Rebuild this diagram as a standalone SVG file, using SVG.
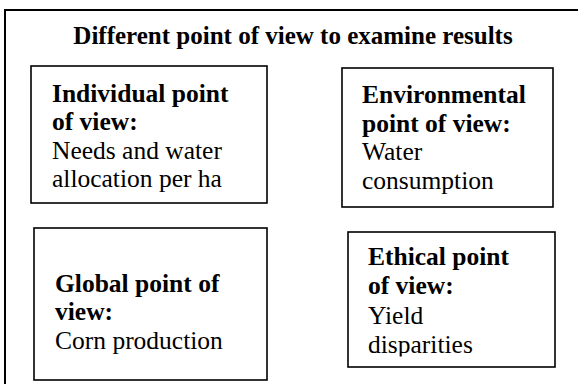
<svg xmlns="http://www.w3.org/2000/svg" width="578" height="384" viewBox="0 0 578 384">
<style>
.frame{fill:none;stroke:#000;stroke-width:2}
.box{fill:#fff;stroke:#000;stroke-width:1.6}
text{font-family:"Liberation Serif","Times New Roman",serif;font-size:25.5px;fill:#000}
.b{font-weight:bold}
.t{font-size:25px;font-weight:bold}
</style>
<defs>
<clipPath id="c1"><rect x="31" y="66" width="236" height="126"/></clipPath>
<clipPath id="c4"><rect x="348" y="232" width="207" height="124.5"/></clipPath>
</defs>
<g id="connectors"/>
<g id="frame">
<path class="frame" d="M5,384 V10 H578"/>
<text class="t" x="293" y="44" text-anchor="middle">Different point of view to examine results</text>
</g>
<g id="individual">
<rect class="box" x="31" y="66" width="236" height="137"/>
<g clip-path="url(#c1)">
<text class="b" x="52" y="101.5">Individual point</text>
<text class="b" x="52" y="130">of view:</text>
<text x="52" y="158.5">Needs and water</text>
<text x="52" y="187">allocation per ha</text>
</g>
</g>
<g id="environmental">
<rect class="box" x="342" y="68" width="211" height="139"/>
<text class="b" x="362" y="103">Environmental</text>
<text class="b" x="362" y="131.5">point of view:</text>
<text x="362" y="160">Water</text>
<text x="362" y="188.5">consumption</text>
</g>
<g id="global">
<rect class="box" x="34" y="228" width="233" height="152"/>
<text class="b" x="55" y="291.5">Global point of</text>
<text class="b" x="55" y="320">view:</text>
<text x="55" y="348.5">Corn production</text>
</g>
<g id="ethical">
<rect class="box" x="348" y="232" width="207" height="135"/>
<g clip-path="url(#c4)">
<text class="b" x="368" y="265">Ethical point</text>
<text class="b" x="368" y="294">of view:</text>
<text x="368" y="323.5">Yield</text>
<text x="368" y="353">disparities</text>
</g>
</g>
</svg>
